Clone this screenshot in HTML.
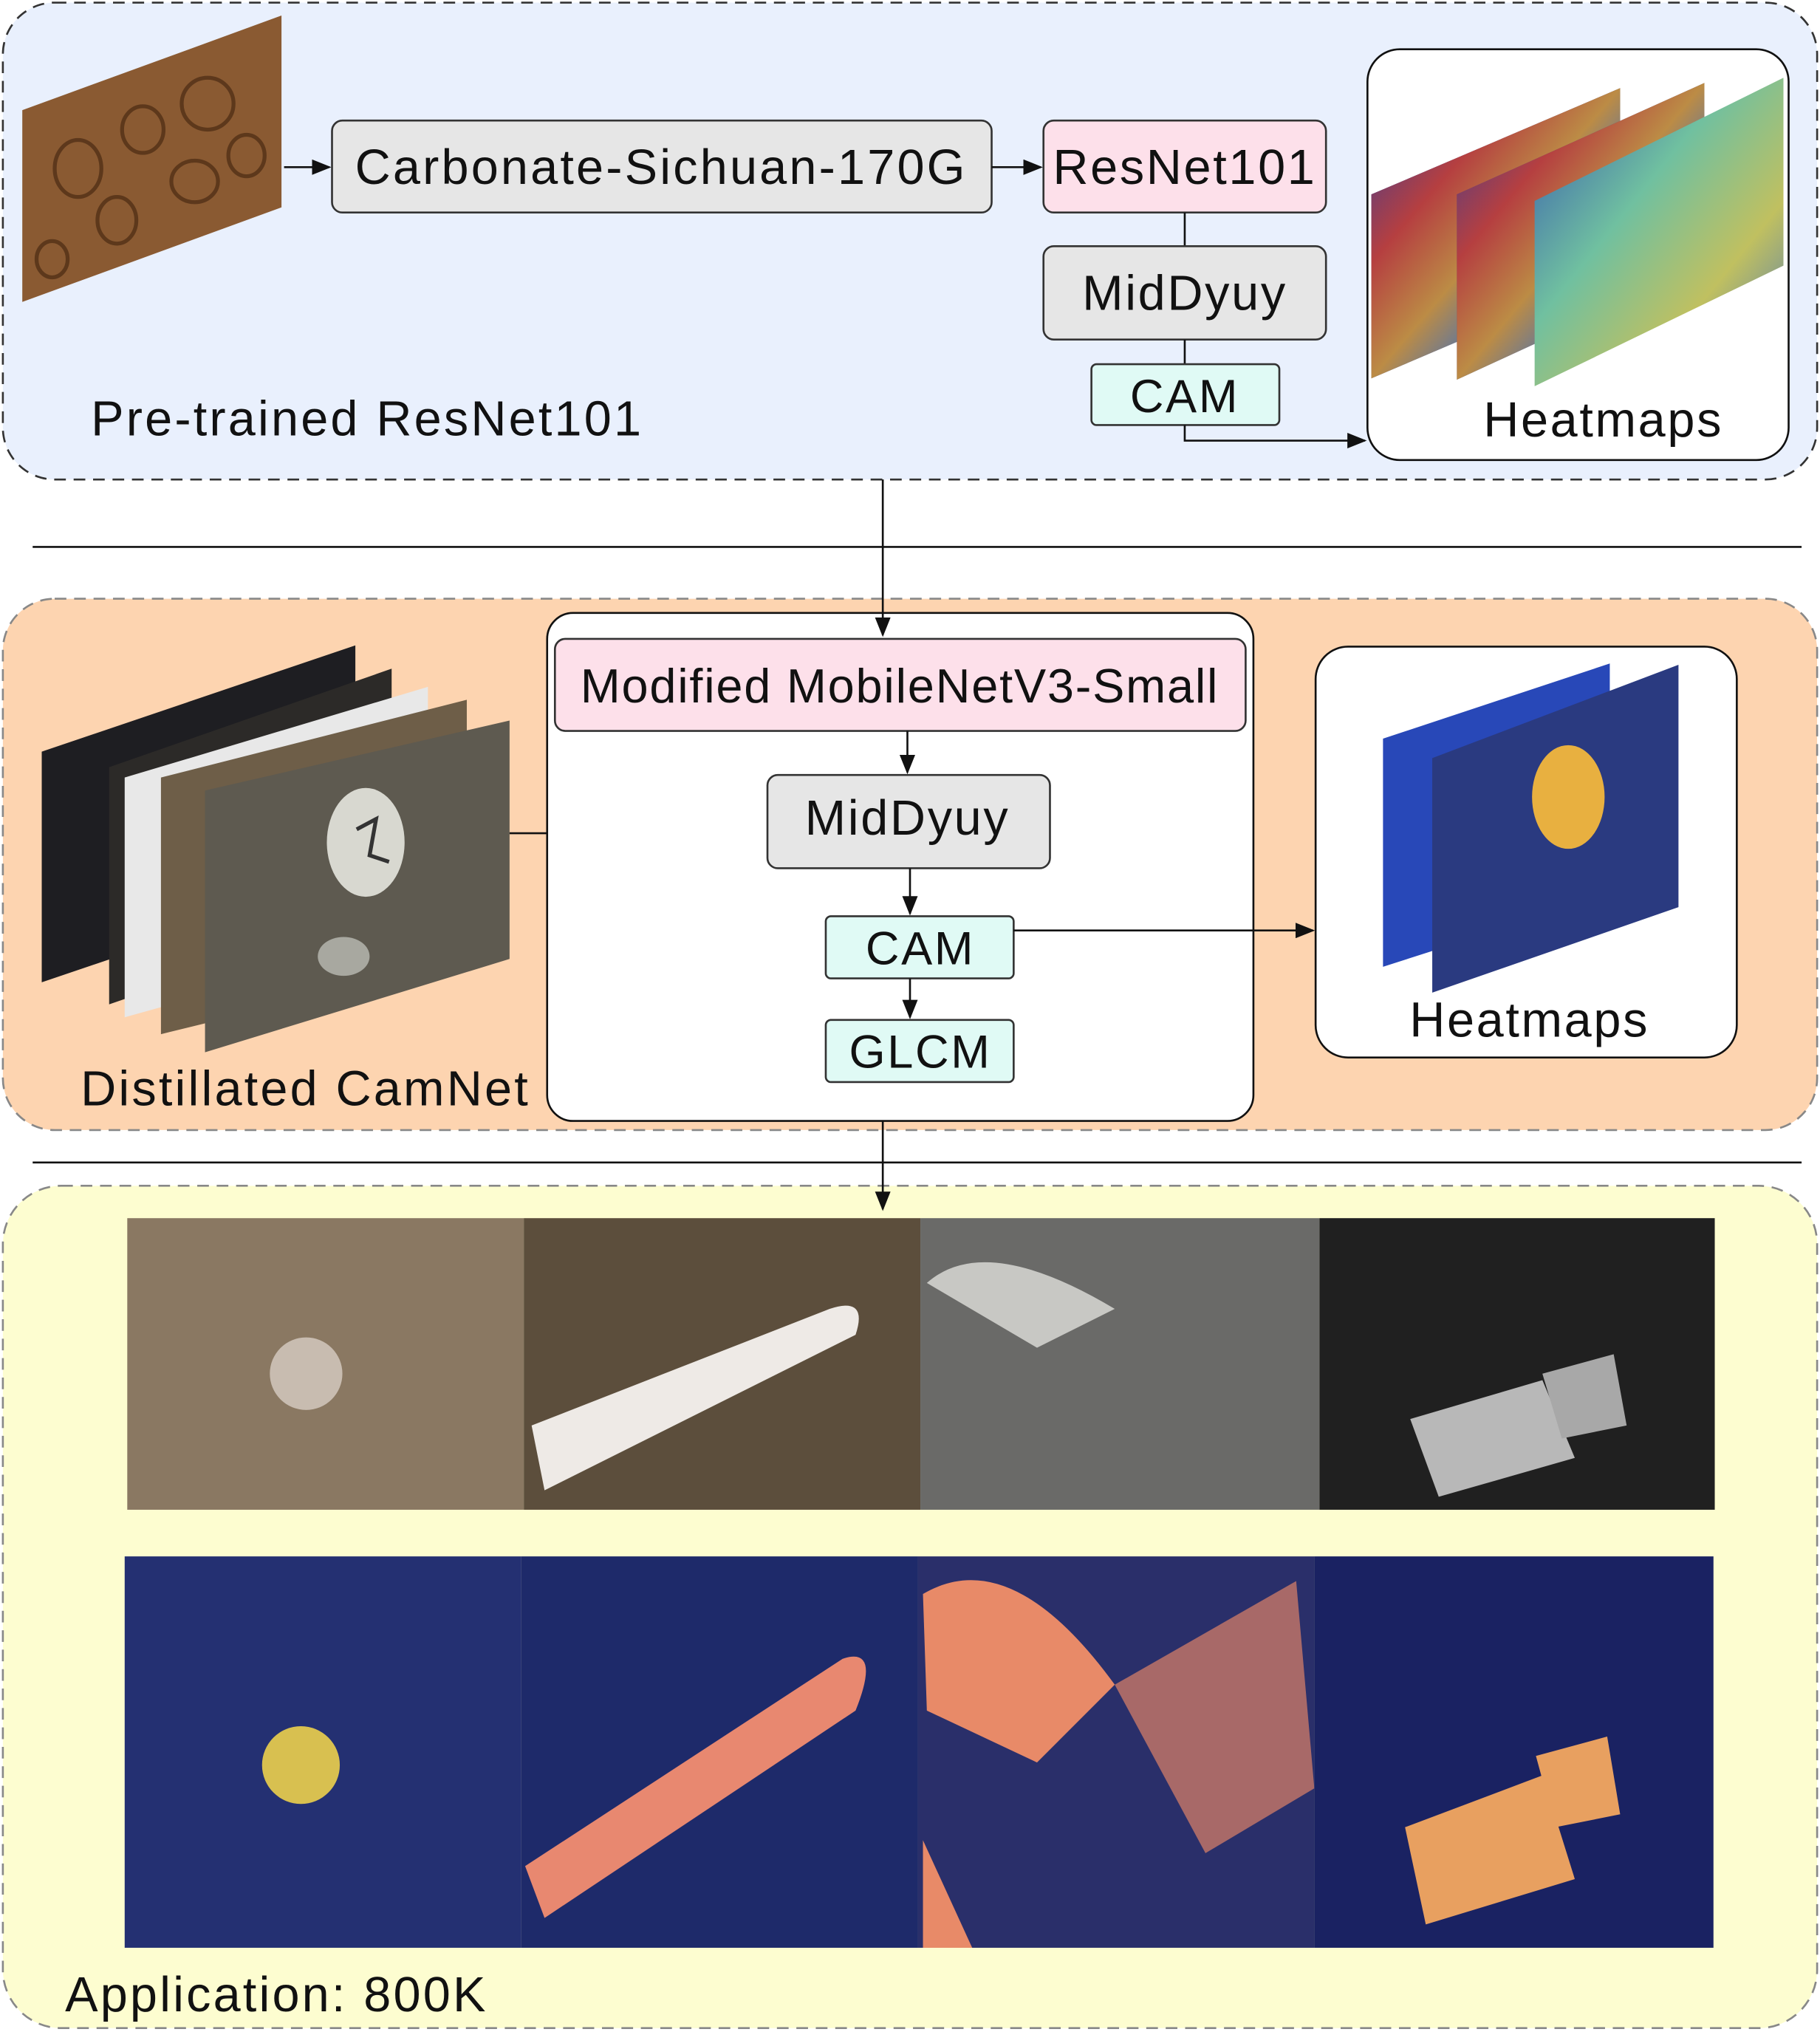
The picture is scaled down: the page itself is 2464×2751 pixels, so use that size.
<!DOCTYPE html>
<html><head><meta charset="utf-8"><style>
html,body{margin:0;padding:0;background:#fff;}
svg{display:block;}
text{font-family:"Liberation Sans",Arial,sans-serif;fill:#111;}
</style></head><body>
<svg width="2464" height="2751" viewBox="0 0 1404 1568" xmlns="http://www.w3.org/2000/svg">
<defs>
<marker id="ah" markerWidth="10" markerHeight="8" refX="9" refY="4" orient="auto"><path d="M0,0 L10,4 L0,8 Z" fill="#111"/></marker>
<linearGradient id="heat1" x1="0" y1="0" x2="1" y2="1"><stop offset="0" stop-color="#2b3fa0"/><stop offset=".3" stop-color="#d8402a"/><stop offset=".5" stop-color="#e0a030"/><stop offset=".7" stop-color="#3a7ad0"/><stop offset="1" stop-color="#c03030"/></linearGradient>
<linearGradient id="heat2" x1="0" y1="0" x2="1" y2="1"><stop offset="0" stop-color="#3050b0"/><stop offset=".4" stop-color="#70c0a0"/><stop offset=".7" stop-color="#c0c060"/><stop offset="1" stop-color="#4070c0"/></linearGradient>
</defs>

<!-- Top panel -->
<g>
<rect x="2" y="2" width="1400" height="368" rx="40" fill="#e9f0fd" stroke="#333" stroke-width="1.5" stroke-dasharray="9,6"/>
<polygon points="17,85 217,12 217,160 17,233" fill="#8a5a32"/>
<g fill="none" stroke="#4a2a12" stroke-width="3" opacity=".7">
<ellipse cx="60" cy="130" rx="18" ry="22"/><ellipse cx="110" cy="100" rx="16" ry="18"/><ellipse cx="160" cy="80" rx="20" ry="20"/><ellipse cx="90" cy="170" rx="15" ry="18"/><ellipse cx="150" cy="140" rx="18" ry="16"/><ellipse cx="190" cy="120" rx="14" ry="16"/><ellipse cx="40" cy="200" rx="12" ry="14"/>
</g>
<line x1="219" y1="129" x2="254" y2="129" stroke="#111" stroke-width="1.5" marker-end="url(#ah)"/>
<rect x="256" y="93" width="509" height="71" rx="8" fill="#e6e6e6" stroke="#333" stroke-width="1.5"/>
<text x="510" y="142" font-size="38" text-anchor="middle" letter-spacing="1.8">Carbonate-Sichuan-170G</text>
<line x1="765" y1="129" x2="803" y2="129" stroke="#111" stroke-width="1.5" marker-end="url(#ah)"/>
<rect x="805" y="93" width="218" height="71" rx="8" fill="#fde0ea" stroke="#333" stroke-width="1.5"/>
<text x="914" y="142" font-size="38" text-anchor="middle" letter-spacing="1.5">ResNet101</text>
<line x1="914" y1="164" x2="914" y2="190" stroke="#111" stroke-width="1.5"/>
<rect x="805" y="190" width="218" height="72" rx="8" fill="#e6e6e6" stroke="#333" stroke-width="1.5"/>
<text x="914" y="239" font-size="38" text-anchor="middle" letter-spacing="1.5">MidDyuy</text>
<line x1="914" y1="262" x2="914" y2="281" stroke="#111" stroke-width="1.5"/>
<rect x="842" y="281" width="145" height="47" rx="4" fill="#e0faf5" stroke="#333" stroke-width="1.5"/>
<text x="914" y="318" font-size="36" text-anchor="middle" letter-spacing="1.5">CAM</text>
<polyline points="914,328 914,340 1053,340" fill="none" stroke="#111" stroke-width="1.5" marker-end="url(#ah)"/>
<rect x="1055" y="38" width="325" height="317" rx="25" fill="#fff" stroke="#111" stroke-width="1.5"/>
<polygon points="1058,150 1250,68 1250,210 1058,292" fill="#2a3a9a"/>
<polygon points="1058,150 1250,68 1250,210 1058,292" fill="url(#heat1)" opacity=".8"/>
<polygon points="1124,150 1315,64 1315,205 1124,293" fill="#2a3a9a"/>
<polygon points="1124,150 1315,64 1315,205 1124,293" fill="url(#heat1)" opacity=".8"/>
<polygon points="1184,155 1376,60 1376,205 1184,298" fill="url(#heat2)"/>
<text x="1237" y="337" font-size="38" text-anchor="middle" letter-spacing="1.5">Heatmaps</text>
<text x="70" y="336" font-size="38" letter-spacing="1.8">Pre-trained ResNet101</text>
</g>

<line x1="25" y1="422" x2="1390" y2="422" stroke="#111" stroke-width="1.5"/>
<line x1="25" y1="897" x2="1390" y2="897" stroke="#111" stroke-width="1.5"/>

<!-- Middle panel -->
<g>
<rect x="2" y="462" width="1400" height="410" rx="40" fill="#fdd4b0" stroke="#888" stroke-width="1.5" stroke-dasharray="9,6"/>
<polygon points="32,580 274,498 274,676 32,758" fill="#1e1e22"/>
<polygon points="84,592 302,516 302,700 84,775" fill="#2c2a28"/>
<polygon points="96,600 330,530 330,720 96,785" fill="#e8e8e8"/>
<polygon points="124,600 360,540 360,740 124,798" fill="#6e5e48"/>
<polygon points="158,610 393,556 393,740 158,812" fill="#5e5a50"/>
<ellipse cx="282" cy="650" rx="30" ry="42" fill="#d8d8d0"/>
<path d="M275,640 L290,632 L285,660 L300,665" fill="none" stroke="#333" stroke-width="3"/>
<ellipse cx="265" cy="738" rx="20" ry="15" fill="#a8a8a0"/>
<line x1="393" y1="643" x2="590" y2="643" stroke="#111" stroke-width="1.5" marker-end="url(#ah)"/>
<rect x="422" y="473" width="545" height="392" rx="20" fill="#fff" stroke="#111" stroke-width="1.5"/>
<rect x="428" y="493" width="533" height="71" rx="8" fill="#fde0ea" stroke="#333" stroke-width="1.5"/>
<text x="694" y="542" font-size="37" text-anchor="middle" letter-spacing="1">Modified MobileNetV3-Small</text>
<line x1="700" y1="564" x2="700" y2="596" stroke="#111" stroke-width="1.5" marker-end="url(#ah)"/>
<rect x="592" y="598" width="218" height="72" rx="8" fill="#e6e6e6" stroke="#333" stroke-width="1.5"/>
<text x="700" y="644" font-size="38" text-anchor="middle" letter-spacing="1.5">MidDyuy</text>
<line x1="702" y1="670" x2="702" y2="705" stroke="#111" stroke-width="1.5" marker-end="url(#ah)"/>
<rect x="637" y="707" width="145" height="48" rx="4" fill="#e0faf5" stroke="#333" stroke-width="1.5"/>
<text x="710" y="744" font-size="36" text-anchor="middle" letter-spacing="1.5">CAM</text>
<line x1="702" y1="755" x2="702" y2="785" stroke="#111" stroke-width="1.5" marker-end="url(#ah)"/>
<rect x="637" y="787" width="145" height="48" rx="4" fill="#e0faf5" stroke="#333" stroke-width="1.5"/>
<text x="710" y="824" font-size="36" text-anchor="middle" letter-spacing="1.5">GLCM</text>
<line x1="782" y1="718" x2="1013" y2="718" stroke="#111" stroke-width="1.5" marker-end="url(#ah)"/>
<rect x="1015" y="499" width="325" height="317" rx="25" fill="#fff" stroke="#111" stroke-width="1.5"/>
<polygon points="1067,570 1242,512 1242,690 1067,746" fill="#2848b8"/>
<polygon points="1105,585 1295,513 1295,700 1105,766" fill="#2a3a80"/>
<ellipse cx="1210" cy="615" rx="28" ry="40" fill="#e8b040"/>
<text x="1180" y="800" font-size="38" text-anchor="middle" letter-spacing="1.5">Heatmaps</text>
<text x="62" y="853" font-size="38" letter-spacing="1.8">Distillated CamNet</text>
</g>

<!-- Bottom panel -->
<g>
<rect x="2" y="915" width="1400" height="650" rx="45" fill="#fdfdd0" stroke="#888" stroke-width="1.5" stroke-dasharray="9,6"/>
<rect x="98" y="940" width="306" height="225" fill="#8a7862"/>
<circle cx="236" cy="1060" r="28" fill="#c8bcb0"/>
<rect x="404" y="940" width="306" height="225" fill="#5c4e3c"/>
<path d="M410,1100 L640,1010 Q670,1000 660,1030 L420,1150 Z" fill="#eeeae6"/>
<rect x="710" y="940" width="308" height="225" fill="#6a6a68"/>
<path d="M715,990 Q760,950 860,1010 L800,1040 Z" fill="#c8c8c4"/>
<rect x="1018" y="940" width="305" height="225" fill="#202020"/>
<polygon points="1088,1095 1190,1065 1215,1125 1110,1155" fill="#b8b8b8"/>
<polygon points="1190,1060 1245,1045 1255,1100 1205,1110" fill="#a8a8a8"/>
<rect x="96" y="1201" width="306" height="302" fill="#243072"/>
<circle cx="232" cy="1362" r="30" fill="#d8c050"/>
<rect x="402" y="1201" width="306" height="302" fill="#1e2a6a"/>
<path d="M405,1440 L650,1280 Q680,1270 660,1320 L420,1480 Z" fill="#e88870"/>
<rect x="708" y="1201" width="306" height="302" fill="#2a2f6a"/>
<path d="M712,1230 Q780,1190 860,1300 L800,1360 L715,1320 Z" fill="#e88a68"/>
<path d="M860,1300 L1000,1220 L1014,1380 L930,1430 Z" fill="#c87868" opacity=".8"/>
<path d="M712,1420 L750,1503 L712,1503 Z" fill="#e88a68"/>
<rect x="1014" y="1201" width="308" height="302" fill="#1a2262"/>
<polygon points="1084,1410 1190,1370 1215,1450 1100,1485" fill="#e8a060"/>
<polygon points="1185,1355 1240,1340 1250,1400 1200,1410" fill="#e8a060"/>
<text x="50" y="1552" font-size="38" letter-spacing="1.8">Application: 800K</text>
</g>

<!-- connecting arrows on top -->
<line x1="681" y1="370" x2="681" y2="490" stroke="#111" stroke-width="1.5" marker-end="url(#ah)"/>
<line x1="681" y1="865" x2="681" y2="933" stroke="#111" stroke-width="1.5" marker-end="url(#ah)"/>
</svg>
</body></html>
